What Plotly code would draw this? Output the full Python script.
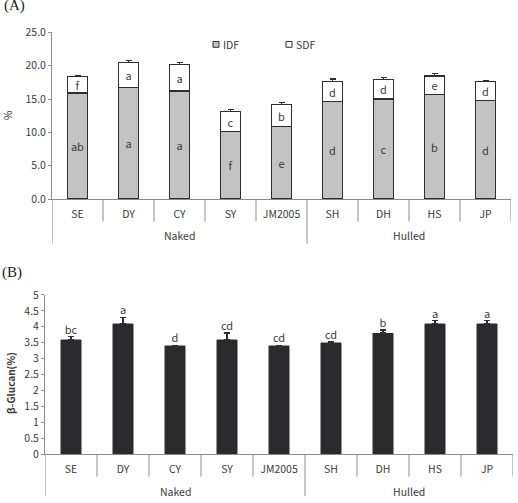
import plotly.graph_objects as go

# ---------------- data ----------------
categories = ["SE", "DY", "CY", "SY", "JM2005", "SH", "DH", "HS", "JP"]
groups = ["Naked", "Naked", "Naked", "Naked", "Naked", "Hulled", "Hulled", "Hulled", "Hulled"]

idf = [15.9, 16.7, 16.2, 10.1, 10.85, 14.6, 15.0, 15.65, 14.75]
idf_err = [0.05, 0.42, 0.35, 0.38, 0.08, 0.28, 0.2, 0.28, 0.08]
idf_letters = ["ab", "a", "a", "f", "e", "d", "c", "b", "d"]

sdf = [2.45, 3.8, 3.95, 3.05, 3.35, 3.0, 2.9, 2.8, 2.85]
sdf_err = [0.08, 0.22, 0.28, 0.32, 0.32, 0.38, 0.28, 0.32, 0.12]
sdf_letters = ["f", "a", "a", "c", "b", "d", "d", "e", "d"]

glucan = [3.6, 4.1, 3.4, 3.6, 3.4, 3.5, 3.8, 4.1, 4.1]
glucan_err = [0.1, 0.2, 0.02, 0.2, 0.02, 0.02, 0.1, 0.1, 0.1]
glucan_letters = ["bc", "a", "d", "cd", "cd", "cd", "b", "a", "a"]

yticks_a = [0, 5, 10, 15, 20, 25]
yticks_b = [0, 0.5, 1, 1.5, 2, 2.5, 3, 3.5, 4, 4.5, 5]

series_names = ["IDF", "SDF"]
series_colors = ["#c3c3c3", "#ffffff"]

# ---------------- style ----------------
W, H = 518, 503
FONT = "Noto Sans CJK KR"
TXT = "#3a3a3a"
AXC = "#8c8c8c"
OUT = "#2e2e2e"

def py(px):  # pixel (from top) -> paper y
    return 1 - px / H

def px_x(px):
    return px / W

fig = go.Figure()

for name, color, vals, errs, letters in [
    (series_names[0], series_colors[0], idf, idf_err, idf_letters),
    (series_names[1], series_colors[1], sdf, sdf_err, sdf_letters),
]:
    fig.add_trace(go.Bar(
        x=categories, y=vals, name=name, xaxis="x", yaxis="y", showlegend=False,
        marker=dict(color=color, line=dict(color=OUT, width=1.3)),
        error_y=dict(type="data", array=errs, arrayminus=[0] * len(errs), symmetric=False,
                     color=OUT, thickness=1.3, width=3),
        text=letters, textposition="inside", insidetextanchor="middle", textangle=0,
        constraintext="none",
        insidetextfont=dict(family=FONT, size=11, color=TXT),
    ))

fig.add_trace(go.Bar(
    x=categories, y=glucan, name="β-Glucan", xaxis="x2", yaxis="y2", showlegend=False,
    marker=dict(color="#2b2b2e", line=dict(color="#2b2b2e", width=0.5)),
    error_y=dict(type="data", array=glucan_err, arrayminus=[0] * len(glucan_err), symmetric=False,
                 color=OUT, thickness=1.3, width=3),
))
fig.add_trace(go.Scatter(
    x=categories, y=[v + e for v, e in zip(glucan, glucan_err)],
    mode="text", text=glucan_letters, textposition="top center",
    textfont=dict(family=FONT, size=11, color=TXT),
    xaxis="x2", yaxis="y2", showlegend=False, hoverinfo="skip",
))

common_x = dict(
    type="category", range=[-0.5, len(categories) - 0.5], showgrid=False,
    showline=True, linecolor=AXC, linewidth=1, ticks="", zeroline=False,
    tickfont=dict(family=FONT, size=10.5, color=TXT), ticklabelstandoff=5,
)
common_y = dict(
    showgrid=False, zeroline=False, showline=True, linecolor=AXC, linewidth=1,
    ticks="outside", ticklen=3, tickcolor=AXC,
    tickfont=dict(family=FONT, size=10.5, color=TXT),
)

A_left, A_right, A_top, A_bot = 52, 511, 25, 197
B_left, B_right, B_top, B_bot = 45, 513, 295.7, 460

fig.update_layout(
    width=W, height=H, margin=dict(l=0, r=0, t=0, b=0),
    paper_bgcolor="white", plot_bgcolor="white",
    barmode="stack", bargap=0.6,
    font=dict(family=FONT, size=11, color=TXT),
    xaxis=dict(common_x, domain=[px_x(A_left), px_x(A_right)], anchor="y"),
    yaxis=dict(common_y, domain=[py(A_bot), py(A_top)], anchor="x",
               range=[0, 25], tickvals=yticks_a, tickformat=".1f"),
    xaxis2=dict(common_x, domain=[px_x(B_left), px_x(B_right)], anchor="y2"),
    yaxis2=dict(common_y, domain=[py(B_bot), py(B_top)], anchor="x2",
                range=[0, 5], tickvals=yticks_b),
    showlegend=False,
)

shapes = []
annotations = []

# Excel-style multi-level category axis dividers
group_bounds = [i for i in range(1, len(groups)) if groups[i] != groups[i - 1]]
for (xa, axbot, short, long_) in [("x", A_bot, 220, 243), ("x2", B_bot, 483, 503)]:
    for i in range(len(categories) + 1):
        is_long = i == 0 or i in group_bounds
        shapes.append(dict(type="line", xref=xa, yref="paper",
                           x0=i - 0.5, x1=i - 0.5, y0=py(axbot), y1=py(long_ if is_long else short),
                           line=dict(color=AXC, width=1)))

# manual legend (small boxes like the original)
for (bx, tx), name, color in zip([(213, 221), (286, 294)], series_names, series_colors):
    shapes.append(dict(type="rect", xref="paper", yref="paper",
                       x0=px_x(bx), x1=px_x(bx + 6), y0=py(40.5), y1=py(34.5),
                       fillcolor=color, line=dict(color=OUT, width=1)))
    annotations.append(dict(xref="paper", yref="paper", x=px_x(tx), y=py(37.5), text=name,
                            showarrow=False, xanchor="left", yanchor="middle",
                            font=dict(family=FONT, size=10.5, color=TXT)))
fig.update_layout(shapes=shapes)

# group labels
uniq = []
for g in groups:
    if g not in uniq:
        uniq.append(g)
for xa, ypx in [("x", 235), ("x2", 498)]:
    for g in uniq:
        idx = [i for i, gg in enumerate(groups) if gg == g]
        annotations.append(dict(xref=xa, yref="paper", x=sum(idx) / len(idx), y=py(ypx),
                                text=g, showarrow=False, yanchor="middle",
                                font=dict(family=FONT, size=10.5, color=TXT)))

annotations += [
    dict(xref="paper", yref="paper", x=0.004, y=py(-3), text="(A)", showarrow=False,
         xanchor="left", yanchor="middle", font=dict(family="Liberation Serif", size=15, color="#222")),
    dict(xref="paper", yref="paper", x=0.0, y=py(273), text="(B)", showarrow=False,
         xanchor="left", yanchor="middle", font=dict(family="Liberation Serif", size=15, color="#222")),
    dict(xref="paper", yref="paper", x=px_x(7.5), y=py(111), text="%", showarrow=False,
         textangle=-90, xanchor="center", yanchor="middle",
         font=dict(family=FONT, size=10.5, color=TXT)),
    dict(xref="paper", yref="paper", x=px_x(10.5), y=py(387), text="<b>β-Glucan(%)</b>", showarrow=False,
         textangle=-90, xanchor="center", yanchor="middle",
         font=dict(family=FONT, size=10, color=TXT)),
]
fig.update_layout(annotations=annotations)

fig.write_html("out.html")
